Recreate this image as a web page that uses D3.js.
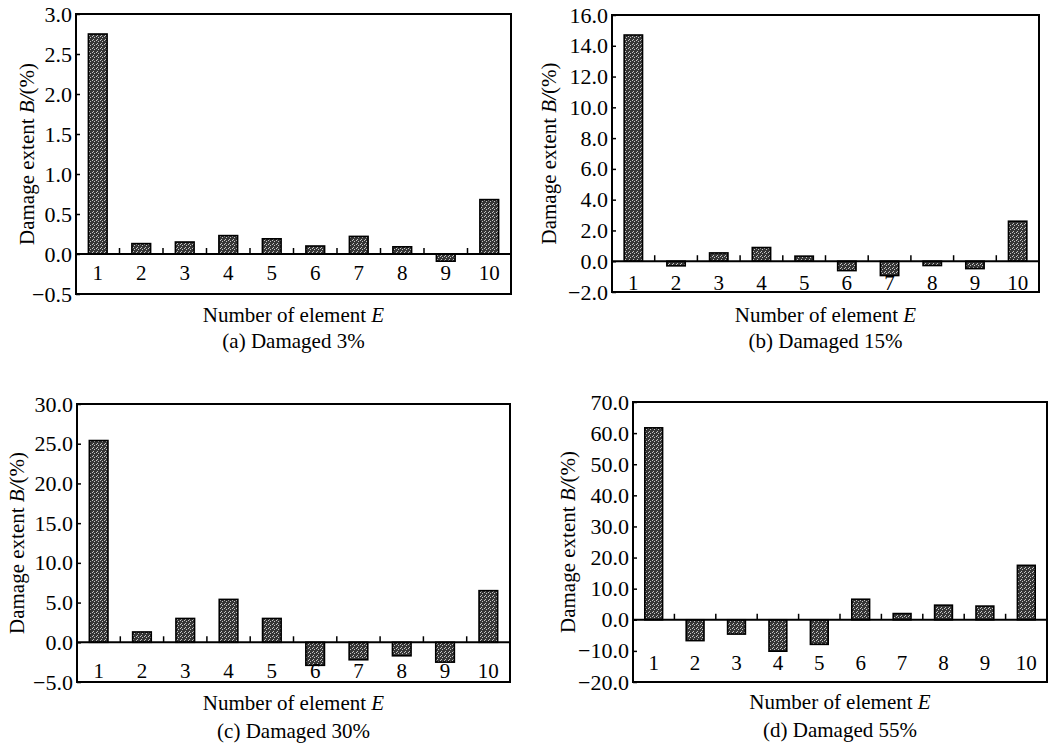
<!DOCTYPE html>
<html>
<head>
<meta charset="utf-8">
<script src="https://cdn.jsdelivr.net/npm/d3@7"></script>
<style>
  body { margin: 0; background: #fff; }
  text { font-family: "Liberation Serif", "Times New Roman", serif; fill: #000; }
</style>
</head>
<body>
<div id="chart"></div>
<script>
// element numbers along the x axis
var elements = ["1", "2", "3", "4", "5", "6", "7", "8", "9", "10"];

// damage extent B (%)
var damaged3  = [2.75, 0.13, 0.15, 0.23, 0.19, 0.10, 0.22, 0.09, -0.09, 0.68];
var damaged15 = [14.7, -0.3, 0.54, 0.89, 0.33, -0.61, -0.93, -0.28, -0.48, 2.6];
var damaged30 = [25.4, 1.3, 3.0, 5.4, 3.0, -2.9, -2.2, -1.7, -2.5, 6.5];
var damaged55 = [61.7, -6.7, -4.6, -10.1, -7.9, 6.6, 2.0, 4.7, 4.4, 17.5];

// y tick values
var ticks3  = [-0.5, 0, 0.5, 1.0, 1.5, 2.0, 2.5, 3.0];
var ticks15 = [-2, 0, 2, 4, 6, 8, 10, 12, 14, 16];
var ticks30 = [-5, 0, 5, 10, 15, 20, 25, 30];
var ticks55 = [-20, -10, 0, 10, 20, 30, 40, 50, 60, 70];

var captions = ["(a) Damaged 3%", "(b) Damaged 15%", "(c) Damaged 30%", "(d) Damaged 55%"];

// layout of the four panels (pixels)
var panels = [
  {values: damaged3,  ticks: ticks3,  caption: captions[0],
   left: 76,  right: 511,  top: 14,  bottom: 294, ylabX: 34,  numDy: 26, titleY: 322, capY: 348},
  {values: damaged15, ticks: ticks15, caption: captions[1],
   left: 612, right: 1039, top: 15,  bottom: 292, ylabX: 556, numDy: 29, titleY: 322, capY: 348},
  {values: damaged30, ticks: ticks30, caption: captions[2],
   left: 77,  right: 510,  top: 404, bottom: 682, ylabX: 24,  numDy: 36, titleY: 710, capY: 738},
  {values: damaged55, ticks: ticks55, caption: captions[3],
   left: 633, right: 1047, top: 402, bottom: 682, ylabX: 575, numDy: 50, titleY: 709, capY: 737}
];

var svg = d3.select('#chart').append('svg')
  .attr('width', 1050)
  .attr('height', 749);

// stippled grey fill for the bars
var pat = svg.append('defs').append('pattern')
  .attr('id', 'stipple')
  .attr('patternUnits', 'userSpaceOnUse')
  .attr('width', 4)
  .attr('height', 4);
pat.append('rect').attr('width', 4).attr('height', 4).attr('fill', '#363636');
[[0, 0], [2, 1], [1, 3]].forEach(function(p) {
  pat.append('rect')
    .attr('x', p[0]).attr('y', p[1])
    .attr('width', 1).attr('height', 1)
    .attr('fill', '#c4c4c4');
});

var fmt = d3.format(".1f");

panels.forEach(function(p) {
  var g = svg.append('g');

  var x = d3.scaleBand()
    .domain(elements)
    .range([p.left, p.right]);
  var bw = x.bandwidth();
  var barW = bw * 0.43;

  var y = d3.scaleLinear()
    .domain([p.ticks[0], p.ticks[p.ticks.length - 1]])
    .range([p.bottom, p.top]);

  // bars
  g.selectAll('rect.bar')
    .data(p.values)
    .enter().append('rect')
    .attr('class', 'bar')
    .attr('x', function(d, i) { return x(elements[i]) + (bw - barW) / 2; })
    .attr('y', function(d) { return y(Math.max(0, d)); })
    .attr('width', barW)
    .attr('height', function(d) { return Math.abs(y(d) - y(0)); })
    .attr('fill', 'url(#stipple)')
    .attr('stroke', '#000')
    .attr('stroke-width', 1.6);

  // y axis, inward ticks
  var yAxis = g.append('g')
    .attr('transform', 'translate(' + p.left + ',0)')
    .call(d3.axisLeft(y).tickValues(p.ticks).tickSize(-4).tickPadding(4).tickFormat(fmt));
  yAxis.select('.domain').remove();
  yAxis.selectAll('line').attr('stroke', '#000').attr('stroke-width', 1.5);
  yAxis.selectAll('text')
    .attr('font-size', 22)
    .attr('font-family', '"Liberation Serif", serif')
    .attr('fill', '#000');

  // zero line
  g.append('line')
    .attr('x1', p.left).attr('x2', p.right)
    .attr('y1', y(0)).attr('y2', y(0))
    .attr('stroke', '#000')
    .attr('stroke-width', 2);

  // small ticks between the bars, standing on the zero line
  g.selectAll('line.sep')
    .data(elements.slice(1))
    .enter().append('line')
    .attr('class', 'sep')
    .attr('x1', function(d) { return x(d); })
    .attr('x2', function(d) { return x(d); })
    .attr('y1', y(0))
    .attr('y2', y(0) - 6)
    .attr('stroke', '#000')
    .attr('stroke-width', 1.5);

  // element numbers under the zero line
  g.selectAll('text.num')
    .data(elements)
    .enter().append('text')
    .attr('class', 'num')
    .attr('x', function(d) { return x(d) + bw / 2; })
    .attr('y', y(0) + p.numDy)
    .attr('text-anchor', 'middle')
    .attr('font-size', 21)
    .text(function(d) { return d; });

  // frame
  g.append('rect')
    .attr('x', p.left).attr('y', p.top)
    .attr('width', p.right - p.left)
    .attr('height', p.bottom - p.top)
    .attr('fill', 'none')
    .attr('stroke', '#000')
    .attr('stroke-width', 2);

  // y label
  var yl = g.append('text')
    .attr('transform', 'translate(' + p.ylabX + ',' + (p.top + p.bottom) / 2 + ') rotate(-90)')
    .attr('text-anchor', 'middle')
    .attr('font-size', 21);
  yl.append('tspan').text('Damage extent ');
  yl.append('tspan').attr('font-style', 'italic').text('B/');
  yl.append('tspan').text('(%)');

  // x title and caption
  var cx = (p.left + p.right) / 2;
  var xt = g.append('text')
    .attr('x', cx)
    .attr('y', p.titleY)
    .attr('text-anchor', 'middle')
    .attr('font-size', 21);
  xt.append('tspan').text('Number of element ');
  xt.append('tspan').attr('font-style', 'italic').text('E');

  g.append('text')
    .attr('x', cx)
    .attr('y', p.capY)
    .attr('text-anchor', 'middle')
    .attr('font-size', 21)
    .text(p.caption);
});
</script>
</body>
</html>
